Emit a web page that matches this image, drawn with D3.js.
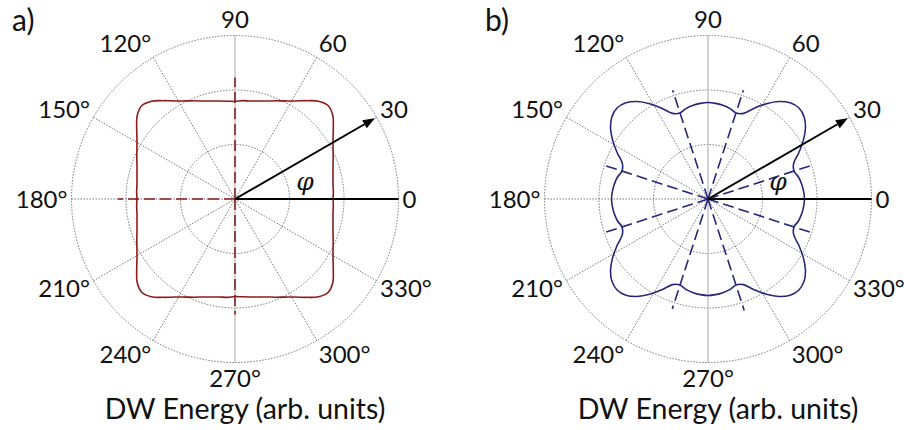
<!DOCTYPE html>
<html>
<head>
<meta charset="utf-8">
<script src="https://cdn.jsdelivr.net/npm/d3@7"></script>
<style>
  body { margin: 0; background: #fff; }
  svg text { font-family: Lato, "Open Sans", sans-serif; fill: #111; }
</style>
</head>
<body>
<svg id="chart" width="904" height="430"></svg>
<script>
// sample spacing of the energy curves, degrees
var step = 4.5;

// a) DW energy, rounded square (arb. units, outer ring = 3)
var energyA = [
  1.80,1.81,1.82,1.85,1.89,1.95,2.02,2.11,2.23,2.36,2.42,2.36,2.23,2.11,2.02,1.95,1.89,1.85,1.82,1.81,
  1.79,1.80,1.82,1.85,1.89,1.95,2.02,2.11,2.23,2.36,2.42,2.36,2.23,2.11,2.02,1.95,1.89,1.85,1.82,1.81,
  1.80,1.81,1.82,1.85,1.89,1.95,2.02,2.11,2.23,2.36,2.42,2.36,2.23,2.11,2.02,1.95,1.89,1.85,1.82,1.81,
  1.79,1.80,1.82,1.85,1.89,1.95,2.02,2.11,2.23,2.36,2.42,2.36,2.23,2.11,2.02,1.95,1.89,1.85,1.82,1.81
];

// b) DW energy, four lobes with notches
var energyB = [
  1.77,1.76,1.74,1.71,1.66,1.70,1.87,2.05,2.21,2.32,2.36,2.32,2.21,2.05,1.87,1.70,1.66,1.71,1.74,1.76,
  1.77,1.76,1.74,1.71,1.66,1.70,1.87,2.05,2.21,2.32,2.36,2.32,2.21,2.05,1.87,1.70,1.66,1.71,1.74,1.76,
  1.77,1.76,1.74,1.71,1.66,1.70,1.87,2.05,2.21,2.32,2.36,2.32,2.21,2.05,1.87,1.70,1.66,1.71,1.74,1.76,
  1.77,1.76,1.74,1.71,1.66,1.70,1.87,2.05,2.21,2.32,2.36,2.32,2.21,2.05,1.87,1.70,1.66,1.71,1.74,1.76
];

// dashed guide lines (angle, length)
var dashAnglesA = [0, 90, 180, 270];
var dashLenA = [2.2, 2.23, 2.15, 2.12];
var dashAnglesB = [18, 72, 108, 162, 198, 252, 288, 342];
var dashLenB = [2.0, 2.1, 2.1, 2.0, 2.0, 2.12, 2.15, 2.0];

var rings = [1, 2, 3];
var tickAngles = [0, 30, 60, 90, 120, 150, 180, 210, 240, 270, 300, 330];
var tickLabels = ["0", "30", "60", "90", "120°", "150°", "180°", "210°", "240°", "270°", "300°", "330°"];

var R = 163.5;
var svg = d3.select("#chart");

var rScale = d3.scaleLinear().domain([0, 3]).range([0, R]);
// lineRadial wants 0 at 12 o'clock, clockwise
var aScale = d3.scaleLinear().domain([0, 360]).range([Math.PI / 2, Math.PI / 2 - 2 * Math.PI]);

function xy(deg, r) {
  var a = deg * Math.PI / 180;
  return [r * Math.cos(a), -r * Math.sin(a)];
}

function drawPanel(cx, cy, letter, energy, color, dashAngles, dashLen) {
  var g = svg.append("g").attr("transform", "translate(" + cx + "," + cy + ")");

  // rings
  g.selectAll(".ring").data(rings).enter().append("circle")
    .attr("r", function(d){ return rScale(d); })
    .attr("fill", "none").attr("stroke", "#666")
    .attr("stroke-width", 0.9).attr("stroke-dasharray", "1.5,1.5");

  // spokes
  g.selectAll(".spoke").data(tickAngles).enter().append("line")
    .attr("x1", 0).attr("y1", 0)
    .attr("x2", function(d){ return xy(d, R)[0]; })
    .attr("y2", function(d){ return xy(d, R)[1]; })
    .attr("stroke", function(d){ return (d == 90 || d == 270) ? "#bbb" : "#666"; })
    .attr("stroke-width", function(d){ return (d == 90 || d == 270) ? 1.3 : 0.9; })
    .attr("stroke-dasharray", function(d){ return (d == 90 || d == 270) ? null : "1.5,1.5"; });

  // energy curve
  var line = d3.lineRadial()
    .angle(function(d, i){ return aScale(i * step); })
    .radius(function(d){ return rScale(d); })
    .curve(d3.curveCatmullRomClosed.alpha(0.5));
  g.append("path").datum(energy)
    .attr("d", line)
    .attr("fill", "none").attr("stroke", color).attr("stroke-width", 1.6);

  // dashed guide lines
  g.selectAll(".dash").data(dashAngles).enter().append("line")
    .attr("x1", 0).attr("y1", 0)
    .attr("x2", function(d, i){ return xy(d, rScale(dashLen[i]))[0]; })
    .attr("y2", function(d, i){ return xy(d, rScale(dashLen[i]))[1]; })
    .attr("stroke", color).attr("stroke-width", 1.6)
    .attr("stroke-dasharray", "11,5");

  // 0 direction
  g.append("line").attr("x1", 0).attr("y1", 0).attr("x2", R).attr("y2", 0)
    .attr("stroke", "#000").attr("stroke-width", 2);

  // arrow to 30
  var tip = xy(30, R - 2);
  var base = xy(30, R - 14);
  g.append("line").attr("x1", 0).attr("y1", 0).attr("x2", base[0]).attr("y2", base[1])
    .attr("stroke", "#000").attr("stroke-width", 2);
  var n = xy(120, 4.5);
  g.append("path")
    .attr("d", "M" + tip[0] + "," + tip[1] +
               "L" + (base[0] + n[0]) + "," + (base[1] + n[1]) +
               "L" + (base[0] - n[0]) + "," + (base[1] - n[1]) + "Z")
    .attr("fill", "#000");

  g.append("text").attr("x", 70).attr("y", -9)
    .attr("text-anchor", "middle")
    .style("font-family", "'DejaVu Serif', serif")
    .style("font-style", "italic").style("font-size", "25px")
    .text("φ");

  // angle labels
  g.selectAll(".tick").data(tickAngles).enter().append("text")
    .attr("x", function(d){ return xy(d, R + 4)[0]; })
    .attr("y", function(d){ return xy(d, R + 16)[1]; })
    .attr("dy", "0.36em")
    .attr("text-anchor", function(d){
      var c = Math.cos(d * Math.PI / 180);
      return c > 0.1 ? "start" : (c < -0.1 ? "end" : "middle");
    })
    .style("font-size", "24px")
    .text(function(d, i){ return tickLabels[i]; });

  g.append("text").attr("x", 10).attr("y", 220)
    .attr("text-anchor", "middle").style("font-size", "28.5px")
    .text("DW Energy (arb. units)");

  svg.append("text").attr("x", cx - 223).attr("y", 31)
    .style("font-size", "30px").text(letter);
}

drawPanel(235, 199, "a)", energyA, "#8c1c1c", dashAnglesA, dashLenA);
drawPanel(708, 199, "b)", energyB, "#27277a", dashAnglesB, dashLenB);
</script>
</body>
</html>
